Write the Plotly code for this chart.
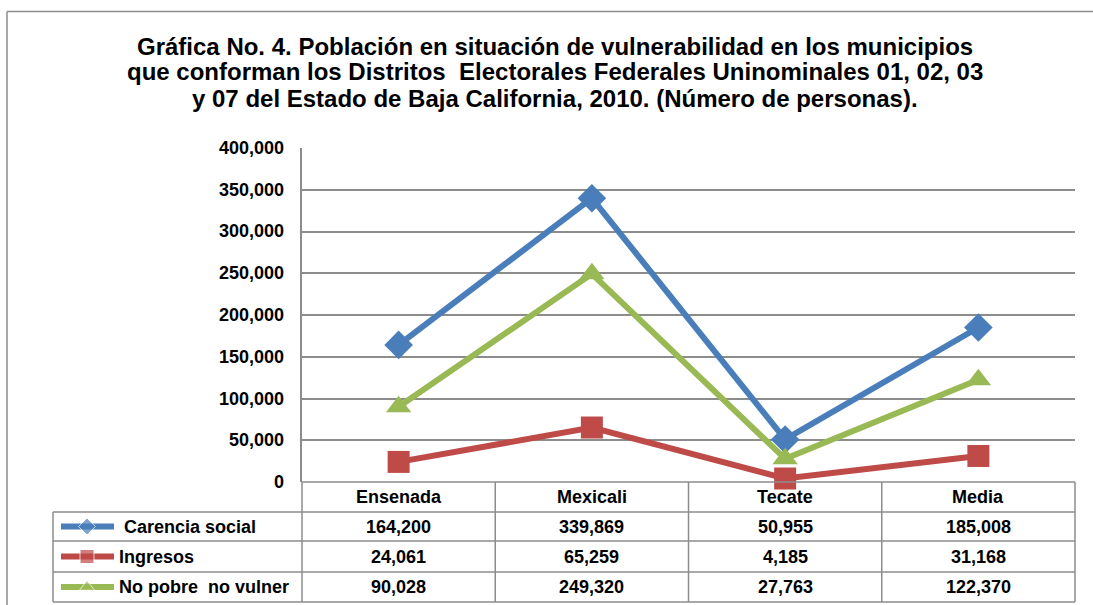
import plotly.graph_objects as go

categories = ["Ensenada", "Mexicali", "Tecate", "Media"]
series_names = ["Carencia social", "Ingresos", "No pobre  no vulner"]
carencia_social = [164200, 339869, 50955, 185008]
ingresos = [24061, 65259, 4185, 31168]
no_pobre = [90028, 249320, 27763, 122370]
y_ticks = [0, 50000, 100000, 150000, 200000, 250000, 300000, 350000, 400000]
title_lines = [
    "Gráfica No. 4. Población en situación de vulnerabilidad en los municipios",
    "que conforman los Distritos  Electorales Federales Uninominales 01, 02, 03",
    "y 07 del Estado de Baja California, 2010. (Número de personas).",
]

W, H = 1093, 605
colors = ["#4a7ebb", "#be4b48", "#98b954"]
symbols = ["diamond", "square", "triangle-up"]
series_vals = [carencia_social, ingresos, no_pobre]


def px(x):
    return x / W


def py(y):
    return 1 - y / H


FONT = "Liberation Sans, Arial, sans-serif"
GRID = "#8c8c8c"

x_left, x_right = 302, 1075
y_top, y_bot = 148, 482
row_lines = [482, 512, 541, 572, 602]
leg_left = 53

fig = go.Figure()
for name, vals, c, s in zip(series_names, series_vals, colors, symbols):
    fig.add_trace(go.Scatter(
        x=list(range(len(categories))), y=vals, name=name, mode="lines+markers",
        line=dict(color=c, width=6),
        marker=dict(symbol=s, size=22, color=c),
        cliponaxis=False, showlegend=False, hoverinfo="skip",
    ))

shapes = []
shapes.append(dict(type="line", xref="paper", yref="paper", x0=px(7), x1=1, y0=py(11.5), y1=py(11.5),
                   line=dict(color="#8c8c8c", width=1.5)))
shapes.append(dict(type="line", xref="paper", yref="paper", x0=px(7), x1=px(7), y0=0, y1=py(11.5),
                   line=dict(color="#8c8c8c", width=1.5)))
n = len(categories)
col_w = (x_right - x_left) / n
for i in range(n + 1):
    xx = x_left + i * col_w
    shapes.append(dict(type="line", xref="paper", yref="paper", x0=px(xx), x1=px(xx),
                       y0=py(row_lines[0]), y1=py(row_lines[-1]), line=dict(color=GRID, width=1.5)))
shapes.append(dict(type="line", xref="paper", yref="paper", x0=px(leg_left), x1=px(leg_left),
                   y0=py(row_lines[1]), y1=py(row_lines[-1]), line=dict(color=GRID, width=1.5)))
shapes.append(dict(type="line", xref="paper", yref="paper", x0=px(x_left), x1=px(x_right),
                   y0=py(row_lines[0]), y1=py(row_lines[0]), line=dict(color=GRID, width=1.5)))
for yy in row_lines[1:]:
    shapes.append(dict(type="line", xref="paper", yref="paper", x0=px(leg_left), x1=px(x_right),
                       y0=py(yy), y1=py(yy), line=dict(color=GRID, width=1.5)))

annotations = []
for i, line in enumerate(title_lines):
    annotations.append(dict(text="<b>%s</b>" % line, x=px(555), y=py(46 + 26 * i), xref="paper", yref="paper",
                            showarrow=False, xanchor="center", yanchor="middle",
                            font=dict(family=FONT, size=24, color="#000000")))
for i, cat in enumerate(categories):
    cx = x_left + (i + 0.5) * col_w
    annotations.append(dict(text="<b>%s</b>" % cat, x=px(cx), y=py((row_lines[0] + row_lines[1]) / 2),
                            xref="paper", yref="paper", showarrow=False, xanchor="center", yanchor="middle",
                            font=dict(family=FONT, size=18, color="#000000")))
for r, (name, vals, c, s) in enumerate(zip(series_names, series_vals, colors, symbols)):
    cy = (row_lines[r + 1] + row_lines[r + 2]) / 2
    for i, v in enumerate(vals):
        cx = x_left + (i + 0.5) * col_w
        annotations.append(dict(text="<b>{:,}</b>".format(v), x=px(cx), y=py(cy), xref="paper", yref="paper",
                                showarrow=False, xanchor="center", yanchor="middle",
                                font=dict(family=FONT, size=18, color="#000000")))
    label_x = 122 if r == 0 else 117
    annotations.append(dict(text="<b>%s</b>" % name, x=px(label_x), y=py(cy), xref="paper", yref="paper",
                            showarrow=False, xanchor="left", yanchor="middle",
                            font=dict(family=FONT, size=18, color="#000000")))
    # legend swatch (line + marker) on a full-page pixel axis
    fig.add_trace(go.Scatter(
        x=[61, 87, 114], y=[cy, cy, cy], mode="lines+markers", xaxis="x2", yaxis="y2",
        line=dict(color=c, width=6), marker=dict(symbol=s, size=[0, 14 if r == 1 else 13, 0], color=c),
        showlegend=False, hoverinfo="skip", cliponaxis=False,
    ))
for t in y_ticks:
    annotations.append(dict(text="<b>{:,}</b>".format(t), x=px(286), xref="paper", y=t, yref="y",
                            showarrow=False, xanchor="right", yanchor="middle",
                            font=dict(family=FONT, size=18, color="#000000")))

fig.update_layout(
    width=W, height=H, margin=dict(l=0, r=0, t=0, b=0, autoexpand=False),
    paper_bgcolor="white", plot_bgcolor="rgba(0,0,0,0)",
    shapes=shapes, annotations=annotations,
    xaxis=dict(domain=[px(x_left), px(x_right)], range=[-0.5, n - 0.5], showticklabels=False,
               showgrid=False, zeroline=False, showline=False, ticks=""),
    yaxis=dict(domain=[py(y_bot), py(y_top)], range=[0, 400000], tickvals=y_ticks, showticklabels=False,
               showgrid=True, gridcolor=GRID, gridwidth=1.5, zeroline=False,
               showline=True, linecolor=GRID, linewidth=1.5, ticks=""),
    xaxis2=dict(domain=[0, 1], range=[0, W], visible=False, anchor="y2"),
    yaxis2=dict(domain=[0, 1], range=[H, 0], visible=False, anchor="x2"),
    showlegend=False,
)

fig.write_html("out.html", config={"displayModeBar": False},
               post_script="document.body.style.margin='0';document.body.style.overflow='hidden';")
